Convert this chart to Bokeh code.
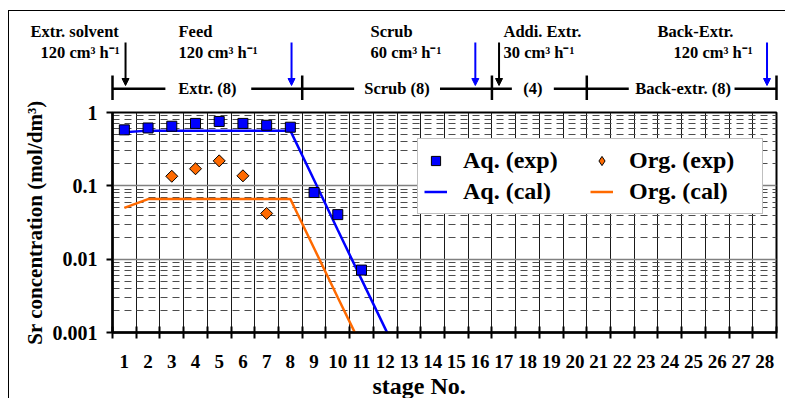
from bokeh.plotting import figure
from bokeh.layouts import column
from bokeh.models import (Range1d, FixedTicker, CustomJSTickFormatter, Legend, LegendItem,
                          Arrow, NormalHead, LinearScale, Title)
from bokeh.embed import file_html
from bokeh.resources import INLINE

# ---------------- data ----------------
stages = list(range(1, 29))
stage_edges = [s + 0.5 for s in range(0, 29)]

aq_exp_stage = [1, 2, 3, 4, 5, 6, 7, 8, 9, 10, 11]
aq_exp = [0.58, 0.615, 0.65, 0.71, 0.755, 0.71, 0.67, 0.63, 0.081, 0.0405, 0.0071]

org_exp_stage = [3, 4, 5, 6, 7]
org_exp = [0.135, 0.171, 0.219, 0.137, 0.042]

aq_cal_stage = [1, 2, 3, 4, 5, 6, 7, 8, 9, 10, 11, 12, 13]
aq_cal = [0.537, 0.566, 0.566, 0.566, 0.566, 0.566, 0.566, 0.566, 0.12, 0.025, 0.0053, 0.00113, 0.00024]

org_cal_stage = [1, 2, 3, 4, 5, 6, 7, 8, 9, 10, 11]
org_cal = [0.050, 0.066, 0.066, 0.066, 0.066, 0.066, 0.066, 0.066, 0.0141, 0.0030, 0.00065]

y_major = [0.001, 0.01, 0.1, 1]
y_minor = [m * d for d in (0.001, 0.01, 0.1) for m in range(2, 10)]

section_bounds = [0.5, 8.5, 16.5, 20.5, 28.5]
section_names = ["Extr. (8)", "Scrub (8)", "(4)", "Back-extr. (8)"]
section_centers = [4.5, 12.5, 18.23, 24.56]
section_line_x0 = [0.5, 6.35, 14.31, 19.11, 26.73]
section_line_x1 = [2.73, 10.69, 17.34, 22.27, 28.5]

feed_titles = ["Extr. solvent", "Feed", "Scrub", "Addi. Extr.", "Back-Extr."]
feed_rates = ["120 cm³ h⁻¹", "120 cm³ h⁻¹", "60 cm³ h⁻¹", "30 cm³ h⁻¹", "120 cm³ h⁻¹"]
feed_title_x = [30, 178, 370, 503, 657]
feed_rate_x = [40, 178, 370, 503, 673]
arrow_stage = [1.05, 8.05, 15.8, 16.8, 28.1]
arrow_color = ["black", "blue", "blue", "black", "blue"]

FONT = "Liberation Serif"
BLUE = "#0000FF"
ORANGE = "#FF6A00"

# ---------------- layout constants (page pixels) ----------------
X0 = 9            # left edge of content (after margin + border)
Y0 = 11           # top edge of content
W = 776
FRAME_L, FRAME_R = 112, 776
FRAME_T, FRAME_B = 112, 334
TOP_H = 89
MAIN_H = 298
k = (FRAME_R - FRAME_L) / 28.0

# ---------------- top annotation figure ----------------
top = figure(width=W, height=TOP_H, x_range=Range1d(X0, X0 + W),
             y_range=Range1d(Y0 + TOP_H, Y0), x_axis_location=None, y_axis_location=None,
             min_border=0, min_border_left=0, min_border_right=0, min_border_top=0,
             min_border_bottom=0, output_backend="svg", toolbar_location=None)
top.frame_align = False
top.extra_x_ranges = {"stage": Range1d(0.5 - (FRAME_L - X0) / k, 0.5 + (X0 + W - FRAME_L) / k)}
top.extra_x_scales = {"stage": LinearScale()}
top.outline_line_color = None
top.grid.visible = False

top.segment(x0=section_line_x0, y0=[88.3] * 5, x1=section_line_x1, y1=[88.3] * 5,
            x_range_name="stage", line_color="black", line_width=2.5)
top.segment(x0=section_bounds, y0=[75] * 5, x1=section_bounds, y1=[104] * 5,
            x_range_name="stage", line_color="black", line_width=2.5)
top.text(x=section_centers, y=[88.3] * 4, text=section_names, x_range_name="stage",
         text_align="center", text_baseline="middle", text_font={"value": FONT},
         text_font_style="bold", text_font_size="16.5px", text_color="black")
top.text(x=feed_title_x, y=[31] * 5, text=feed_titles, text_align="left",
         text_baseline="middle", text_font={"value": FONT}, text_font_style="bold",
         text_font_size="16.5px", text_color="black")
top.text(x=feed_rate_x, y=[52] * 5, text=feed_rates, text_align="left",
         text_baseline="middle", text_font={"value": FONT}, text_font_style="bold",
         text_font_size="16.5px", text_color="black")
for ax, col in zip(arrow_stage, arrow_color):
    top.add_layout(Arrow(x_start=ax, y_start=42, x_end=ax, y_end=85, x_range_name="stage",
                         line_color=col, line_width=2,
                         end=NormalHead(size=7, fill_color=col, line_color=col, line_width=1)))

# ---------------- main figure ----------------
p = figure(width=W, height=MAIN_H, y_axis_type="log",
           x_range=Range1d(0.5, 28.5), y_range=Range1d(0.001, 1),
           min_border_left=FRAME_L - X0, min_border_right=X0 + W - FRAME_R,
           min_border_top=FRAME_T - (Y0 + TOP_H),
           min_border_bottom=(Y0 + TOP_H + MAIN_H) - FRAME_B,
           output_backend="svg", toolbar_location=None)
p.frame_align = False

p.outline_line_color = "black"
p.outline_line_width = 2

xt = FixedTicker(ticks=stages, minor_ticks=stage_edges)
p.xaxis.ticker = xt
p.xgrid.ticker = xt
p.xaxis.axis_line_width = 2.5
p.xaxis.major_tick_line_color = None
p.xaxis.major_tick_out = 0
p.xaxis.major_tick_in = 0
p.xaxis.minor_tick_line_color = "black"
p.xaxis.minor_tick_line_width = 2
p.xaxis.minor_tick_in = 6
p.xaxis.minor_tick_out = 6
p.xaxis.major_label_text_font = FONT
p.xaxis.major_label_text_font_style = "bold"
p.xaxis.major_label_text_font_size = "19px"
p.xaxis.major_label_text_color = "black"
p.xaxis.major_label_standoff = 16
p.xgrid.grid_line_color = None
p.xgrid.minor_grid_line_color = "#1a1a1a"
p.xgrid.minor_grid_line_width = 1

yt = FixedTicker(ticks=y_major, minor_ticks=y_minor)
p.yaxis.ticker = yt
p.ygrid.ticker = yt
p.yaxis.formatter = CustomJSTickFormatter(code="return tick.toString();")
p.yaxis.axis_line_width = 2.5
p.yaxis.major_tick_line_width = 2
p.yaxis.major_tick_out = 6
p.yaxis.major_tick_in = 0
p.yaxis.minor_tick_line_color = None
p.yaxis.major_label_text_font = FONT
p.yaxis.major_label_text_font_style = "bold"
p.yaxis.major_label_text_font_size = "20px"
p.yaxis.major_label_text_color = "black"
p.yaxis.major_label_standoff = 9
p.yaxis.axis_label = "Sr concentration (mol/dm³)"
p.yaxis.axis_label_text_font = FONT
p.yaxis.axis_label_text_font_style = "bold"
p.yaxis.axis_label_text_font_size = "21px"
p.yaxis.axis_label_text_color = "black"
p.yaxis.axis_label_standoff = 3
p.ygrid.grid_line_color = "#808080"
p.ygrid.grid_line_width = 1.5
p.ygrid.minor_grid_line_color = "#4d4d4d"
p.ygrid.minor_grid_line_dash = "7 5"
p.ygrid.minor_grid_line_width = 1.2

r_aq_cal = p.line(aq_cal_stage, aq_cal, line_color=BLUE, line_width=2.5)
r_org_cal = p.line(org_cal_stage, org_cal, line_color=ORANGE, line_width=2.5)
r_aq_exp = p.scatter(aq_exp_stage, aq_exp, marker="square", size=10,
                     fill_color=BLUE, line_color="black", line_width=1)
# diamond glyph (used for the legend swatch) drawn underneath the rotated squares
r_org_leg = p.scatter(org_exp_stage, org_exp, marker="diamond", size=11,
                      fill_color=ORANGE, line_color="black", line_width=1)
r_org_exp = p.scatter(org_exp_stage, org_exp, marker="square", angle=0.785398, size=8.5,
                      fill_color=ORANGE, line_color="black", line_width=1)

legend = Legend(items=[
    LegendItem(label="Aq. (exp)", renderers=[r_aq_exp]),
    LegendItem(label="Org. (exp)", renderers=[r_org_leg]),
    LegendItem(label="Aq. (cal)", renderers=[r_aq_cal]),
    LegendItem(label="Org. (cal)", renderers=[r_org_cal]),
], orientation="horizontal", nrows=2, location=(305, 118))
legend.label_text_font = FONT
legend.label_text_font_style = "bold"
legend.label_text_font_size = "24px"
legend.label_text_color = "black"
legend.label_height = 31
legend.label_width = 127
legend.glyph_height = 31
legend.glyph_width = 23
legend.label_standoff = 16
legend.spacing = 0
legend.padding = 6
legend.margin = 0
legend.border_line_color = "#808080"
legend.border_line_width = 1.5
legend.background_fill_color = "white"
legend.background_fill_alpha = 1
p.add_layout(legend)

p.add_layout(Title(text="stage No.", align="left", offset=372 - FRAME_L, standoff=0,
                   text_font=FONT, text_font_style="bold", text_font_size="24px",
                   text_color="black"), "below")

layout = column(top, p, spacing=0, margin=(Y0 - 1, 0, 0, X0 - 1),
                styles={"border-left": "1px solid black", "border-top": "1px solid black"})

open("out.html", "w").write(file_html(layout, INLINE))
